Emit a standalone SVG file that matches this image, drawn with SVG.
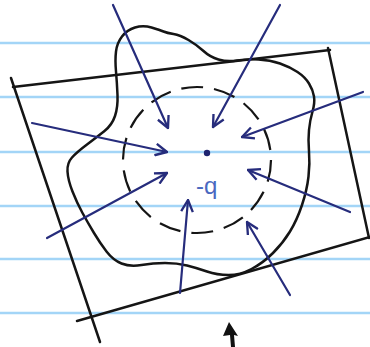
<svg xmlns="http://www.w3.org/2000/svg" width="370" height="347" viewBox="0 0 370 347">
<style>
.rule{stroke:#a3d5f7;stroke-width:2.5}
.ink{fill:none;stroke:#151515;stroke-width:2.5;stroke-linecap:round;stroke-linejoin:round}
.arr{fill:none;stroke:#262c7c;stroke-width:2.2;stroke-linecap:round;marker-end:url(#v)}
</style>
<defs>
<marker id="v" viewBox="0 0 12 12" refX="11" refY="6" markerWidth="14" markerHeight="14" markerUnits="userSpaceOnUse" orient="auto">
<path d="M1,1 L11,6 L1,11" fill="none" stroke="#262c7c" stroke-width="2" stroke-linejoin="round"/>
</marker>
</defs>
<rect width="370" height="347" fill="#ffffff"/>
<g id="paper-lines">
<line class="rule" x1="0" y1="43" x2="370" y2="43"/>
<line class="rule" x1="0" y1="97" x2="370" y2="97"/>
<line class="rule" x1="0" y1="152" x2="370" y2="152"/>
<line class="rule" x1="0" y1="206" x2="370" y2="206"/>
<line class="rule" x1="0" y1="259" x2="370" y2="259"/>
<line class="rule" x1="0" y1="313" x2="370" y2="313"/>
</g>
<g id="surface">
<line class="ink" x1="11" y1="78" x2="100" y2="342"/>
<line class="ink" x1="13" y1="87" x2="330" y2="50"/>
<line class="ink" x1="328" y1="48" x2="369" y2="238"/>
<line class="ink" x1="370" y1="237" x2="77" y2="321"/>
</g>
<g id="blob">
<path class="ink" d="M122,36.5 Q127,30 135,27.5 Q143,25 151.5,27.5 Q160,30 163.5,31.5 Q167,33 173.5,34 Q180,35 188.5,40 Q197,45 203.5,51 Q210,57 218.5,59.5 Q227,62 237,60.5 Q247,59 258.5,59.5 Q270,60 280,63.5 Q290,67 297.5,72 Q305,77 309,83.5 Q313,90 314,96.5 Q315,103 312.5,111.5 Q310,120 309,130 Q308,140 309,151.5 Q310,163 308.5,176.5 Q307,190 302,205 Q297,220 290,231.5 Q283,243 273,253 Q263,263 251.5,269 Q240,275 228.5,275 Q217,275 207,271.5 Q197,268 187,265.5 Q177,263 165,263 Q153,263 141.5,265 Q130,267 121.5,263.5 Q113,260 106.5,251.5 Q100,243 94,233 Q88,223 82.5,213 Q77,203 72.5,191.5 Q68,180 67.5,171.5 Q67,163 72,157.5 Q77,152 87,144.5 Q97,137 104.5,131 Q112,125 115,116 Q118,107 117.5,95 Q117,83 116,71.5 Q115,60 116,51.5 Q117,43 122,36.5 Z"/>
</g>
<g id="gauss-sphere">
<ellipse cx="197" cy="160" rx="74" ry="73" fill="none" stroke="#151515" stroke-width="2.2" stroke-dasharray="22 11"/>
</g>
<g id="charge">
<circle cx="207" cy="153" r="3.2" fill="#1e2470"/>
<text x="196" y="194" font-family="Liberation Sans, sans-serif" font-size="24" fill="#4a68c0">-q</text>
</g>
<g id="connectors">
<line class="arr" x1="113" y1="5" x2="168" y2="128"/>
<line class="arr" x1="280" y1="5" x2="213" y2="127"/>
<line class="arr" x1="363" y1="92" x2="242" y2="137"/>
<line class="arr" x1="32" y1="123" x2="167" y2="152"/>
<line class="arr" x1="47" y1="238" x2="167" y2="173"/>
<line class="arr" x1="350" y1="212" x2="248" y2="170"/>
<line class="arr" x1="180" y1="293" x2="188" y2="200"/>
<line class="arr" x1="290" y1="295" x2="247" y2="222"/>
</g>
<g id="pointer">
<path d="M229,322 L238,336 L234,335 L235,347 L231,347 L230,335 L223,336 Z" fill="#111"/>
</g>
</svg>
